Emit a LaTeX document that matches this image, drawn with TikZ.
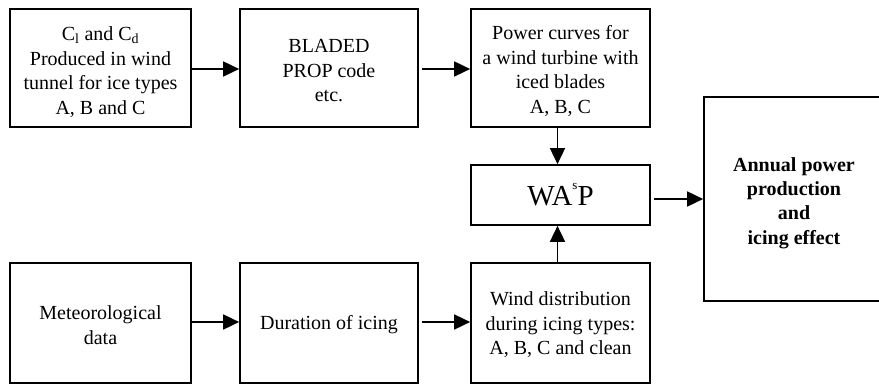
\documentclass[tikz,border=0pt]{standalone}
\usepackage{fontspec}
\setmainfont{Liberation Serif}
\usetikzlibrary{arrows.meta}
\tikzset{
  blk/.style={draw=black, line width=1.7pt, inner sep=0pt, align=center,
    font=\fontsize{20}{24.5}\selectfont},
  txt/.style={inner sep=0pt, align=center, font=\fontsize{20}{24.5}\selectfont},
  arr/.style={line width=1.7pt, -{Triangle[length=16pt,width=15pt]}}
}
\begin{document}
\begin{tikzpicture}[x=1pt,y=-1pt]
\useasboundingbox (0,0) rectangle (879,385);
\clip (0,0) rectangle (879,385);
\node[blk, minimum width=181pt, minimum height=118pt] (cl) at (100.5,68) {};
\node[txt] (cltxt) at (100.5,72)
  {C\textsubscript{l} and C\textsubscript{d}\\Produced in wind\\tunnel for ice types\\A, B and C};
\node[blk, minimum width=178pt, minimum height=118pt] (bladed) at (329,68) {};
\node[txt] (bladedtxt) at (329,71) {BLADED\\PROP code\\etc.};
\node[blk, minimum width=179pt, minimum height=118pt] (power) at (560.5,68) {};
\node[txt] (powertxt) at (560.5,71) {Power curves for\\a wind turbine with\\iced blades\\A, B, C};
\node[blk, minimum width=179pt, minimum height=60pt, font=\fontsize{29}{32}\selectfont] (wasp) at (560.5,195)
  {WA\raisebox{0.55em}{\fontsize{13}{14}\selectfont s}P};
\node[blk, minimum width=180pt, minimum height=204pt] (annual) at (794,199) {};
\node[txt, font=\fontsize{20}{24.3}\selectfont\bfseries] (annualtxt) at (794,203)
  {Annual power\\production\\and\\icing effect};
\node[blk, minimum width=181pt, minimum height=120pt] (met) at (100.5,323) {};
\node[txt] (mettxt) at (100.5,325) {Meteorological\\data};
\node[blk, minimum width=178pt, minimum height=120pt] (dur) at (329,323) {};
\node[txt] (durtxt) at (329,325) {Duration of icing};
\node[blk, minimum width=179pt, minimum height=120pt] (wind) at (560.5,323) {};
\node[txt] (windtxt) at (560.5,325) {Wind distribution\\during icing types:\\A, B, C and clean};
\draw[arr] (cl.east |- 0,69) -- (bladed.west |- 0,69);
\draw[arr, shorten <=3pt] (bladed.east |- 0,69) -- (power.west |- 0,69);
\draw[arr] ([xshift=-3pt]power.south) -- ([xshift=-3pt]wasp.north);
\draw[arr] ([xshift=-3pt]wind.north) -- ([xshift=-3pt]wasp.south);
\draw[arr, shorten <=3pt] (wasp.east |- 0,199) -- (annual.west |- 0,199);
\draw[arr] (met.east |- 0,322) -- (dur.west |- 0,322);
\draw[arr, shorten <=3pt] (dur.east |- 0,322) -- (wind.west |- 0,322);
\end{tikzpicture}
\end{document}
